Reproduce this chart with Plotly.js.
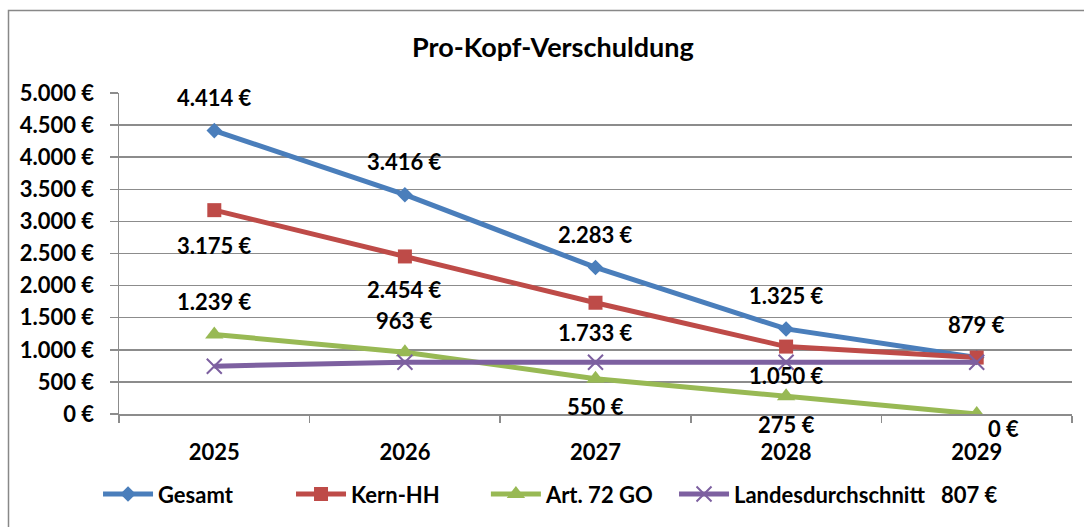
<!DOCTYPE html>
<html>
<head>
<meta charset="utf-8">
<script src="https://cdn.plot.ly/plotly-3.0.1.min.js"></script>
<style>
html,body{margin:0;padding:0;background:#fff;}
#chart{width:1084px;height:527px;}
</style>
</head>
<body>
<div id="chart"></div>
<script>
// ---- data ----
const years = ['2025', '2026', '2027', '2028', '2029'];
const gesamt = [4414, 3416, 2283, 1325, 879];
const kernHH = [3175, 2454, 1733, 1050, 879];
const art72GO = [1239, 963, 550, 275, 0];
const landesdurchschnitt = [745, 807, 807, 807, 807];
const seriesNames = ['Gesamt', 'Kern-HH', 'Art. 72 GO', 'Landesdurchschnitt   807 €'];
const yTickValues = [0, 500, 1000, 1500, 2000, 2500, 3000, 3500, 4000, 4500, 5000];

// ---- styling ----
const FONT = 'Lato, "Open Sans", sans-serif';
const colors = ['#4A7EBB', '#BE4B48', '#98B954', '#7D60A0'];
const gridColor = '#8C8C8C';
const TXT = 22;
const legendIds = ['legend', 'legend2', 'legend3', 'legend4'];
const legendX = [-0.022, 0.1805, 0.385, 0.5824];

function fmt(v) {
  return String(v).replace(/\B(?=(\d{3})+(?!\d))/g, '.') + ' €';
}

const traces = [
  {x: years, y: gesamt, name: seriesNames[0], type: 'scatter', mode: 'lines+markers',
   line: {color: colors[0], width: 5}, marker: {symbol: 'diamond', size: 12, color: colors[0]}},
  {x: years, y: kernHH, name: seriesNames[1], type: 'scatter', mode: 'lines+markers',
   line: {color: colors[1], width: 5}, marker: {symbol: 'square', size: 14, color: colors[1]}},
  {x: years, y: art72GO, name: seriesNames[2], type: 'scatter', mode: 'lines+markers',
   line: {color: colors[2], width: 5}, marker: {symbol: 'triangle-up', size: 16, color: colors[2]}},
  {x: years, y: landesdurchschnitt, name: seriesNames[3], type: 'scatter', mode: 'lines+markers',
   line: {color: colors[3], width: 5},
   marker: {symbol: 'x-thin', size: 15, color: colors[3], line: {color: colors[3], width: 2}}}
];
traces.forEach((t, i) => { t.legend = legendIds[i]; });

// data label placement per series (pixel offsets)
const labelSpecs = [
  {vals: gesamt, yshift: [33, 33, 33, 33, 33], xshift: [0, 0, 0, 0, 0], show: [1, 1, 1, 1, 1]},
  {vals: kernHH, yshift: [-35, -33, -30, -29, -30], xshift: [0, 0, 0, 0, 0], show: [1, 1, 1, 1, 0]},
  {vals: art72GO, yshift: [33, 32, -28, -28, -14], xshift: [0, 0, 0, 0, 27], show: [1, 1, 1, 1, 1]}
];

const annotations = [];
labelSpecs.forEach(s => {
  s.vals.forEach((v, i) => {
    if (!s.show[i]) return;
    annotations.push({
      x: i, y: v, xref: 'x', yref: 'y', text: fmt(v), showarrow: false,
      yshift: s.yshift[i], xshift: s.xshift[i],
      font: {family: FONT, size: TXT, color: '#000', weight: 700}
    });
  });
});

const layout = {
  width: 1084, height: 527,
  margin: {l: 119, r: 12, t: 93, b: 111},
  paper_bgcolor: '#fff', plot_bgcolor: '#fff',
  title: {text: 'Pro-Kopf-Verschuldung', x: 0.51, xanchor: 'center', y: 0.91, yanchor: 'middle',
          font: {family: FONT, size: 27, color: '#000', weight: 700}},
  showlegend: true,
  xaxis: {type: 'category', range: [-0.5, 4.5], showgrid: false, showline: true, linecolor: gridColor, linewidth: 1.5,
          ticks: 'outside', tickson: 'boundaries', ticklen: 7, tickcolor: gridColor, tickwidth: 1.5,
          ticklabelstandoff: 18, tickangle: 0,
          tickfont: {family: FONT, size: TXT, color: '#000', weight: 700}, fixedrange: true},
  yaxis: {range: [0, 5000], tickvals: yTickValues, ticktext: yTickValues.map(fmt),
          showgrid: true, gridcolor: gridColor, gridwidth: 1.5,
          showline: true, linecolor: gridColor, linewidth: 1.5, zeroline: false,
          ticks: 'outside', ticklen: 8, tickcolor: gridColor, tickwidth: 1.5,
          ticklabelstandoff: 11,
          tickfont: {family: FONT, size: TXT, color: '#000', weight: 700}, fixedrange: true},
  annotations: annotations,
  shapes: [{type: 'rect', xref: 'paper', yref: 'paper',
            x0: (8.5 - 119) / 953, x1: (1100 - 119) / 953,
            y0: (416 - 540) / 323, y1: (416 - 10) / 323,
            line: {color: '#888888', width: 1.5}, fillcolor: 'rgba(0,0,0,0)', layer: 'below'}]
};
legendIds.forEach((id, i) => {
  layout[id] = {orientation: 'h', x: legendX[i], xanchor: 'left', y: -0.25, yanchor: 'middle',
                font: {family: FONT, size: 22, color: '#000', weight: 700},
                itemwidth: 50, bgcolor: 'rgba(0,0,0,0)'};
});

Plotly.newPlot('chart', traces, layout, {displayModeBar: false, staticPlot: true});
</script>
</body>
</html>
